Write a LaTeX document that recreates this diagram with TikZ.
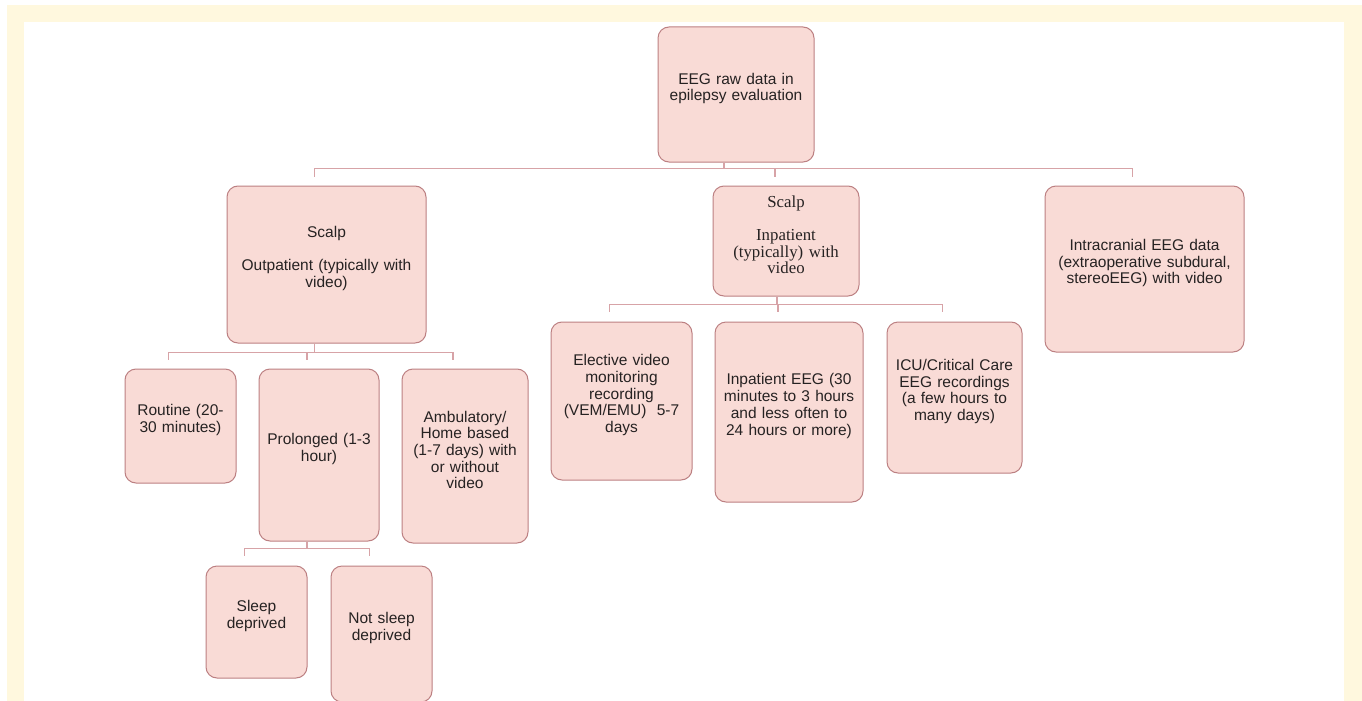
\documentclass[tikz,border=0pt]{standalone}
\usepackage{fontspec}
\setmainfont{Liberation Sans}
\newfontfamily\boxserif{Liberation Serif}
\usepackage{tikz}
\definecolor{cream}{RGB}{255,248,222}
\definecolor{boxfill}{RGB}{249,219,214}
\definecolor{boxline}{RGB}{188,128,130}
\definecolor{linkline}{RGB}{215,163,167}
\definecolor{boxtext}{RGB}{38,34,34}
\tikzset{
    box/.style={draw=boxline, fill=boxfill, line width=1pt, rounded corners=11pt,
        align=center, text=boxtext, inner sep=0pt,
        font=\fontsize{15.5}{16.7}\selectfont,
        execute at end node={\par\kern12pt}},
    boxsize/.style 2 args={minimum width=#1, minimum height=#2, text width=#1-14pt},
    link/.style={draw=linkline, line width=1.1pt},
}

\begin{document}
\begin{tikzpicture}[x=1pt, y=-1pt]
    % Page and frame
    \useasboundingbox (0,0) rectangle (1362,701);
    \fill[cream] (7,5) rectangle (1362,701);
    \fill[white] (24,22) rectangle (1344,701);

    % Top of the tree
    \node[box, boxsize={156pt}{135pt}] (root) at (736,94.5) {EEG raw data in\\epilepsy evaluation};

    % First level
    \node[box, boxsize={199pt}{157pt}] (scalpout) at (326.5,264.5) {Scalp\\[16.7pt]Outpatient (typically with\\video)};
    \node[box, boxsize={146pt}{110pt}, font=\boxserif\fontsize{16.8}{16.5}\selectfont] (scalpin) at (786,241) {Scalp\\[16.5pt]Inpatient\\(typically) with\\video};
    \node[box, boxsize={199pt}{166pt}] (intra) at (1144.5,269) {Intracranial EEG data\\(extraoperative subdural,\\stereoEEG) with video};

    % Outpatient recordings
    \node[box, boxsize={111pt}{114pt}] (routine) at (180.5,426) {Routine (20-\\30 minutes)};
    \node[box, boxsize={120pt}{172pt}] (prolonged) at (319,455) {Prolonged (1-3\\hour)};
    \node[box, boxsize={126pt}{174pt}] (ambul) at (465,456) {Ambulatory/\\Home based\\(1-7 days) with\\or without\\video};

    % Prolonged recordings
    \node[box, boxsize={101pt}{112pt}] (sleep) at (256.5,622) {Sleep\\deprived};
    \node[box, boxsize={101pt}{136pt}] (notsleep) at (381.5,634) {Not sleep\\deprived};

    % Inpatient recordings
    \node[box, boxsize={141pt}{158pt}] (elective) at (621.5,401) {Elective video\\monitoring\\recording\\(VEM/EMU)~ 5-7\\days};
    \node[box, boxsize={148pt}{180pt}] (inpeeg) at (789,412) {Inpatient EEG (30\\minutes to 3 hours\\and less often to\\24 hours or more)};
    \node[box, boxsize={135pt}{151pt}] (icu) at (954.5,397.5) {ICU/Critical Care\\EEG recordings\\(a few hours to\\many days)};

    % Connectors from the top
    \draw[link] ([xshift=-12pt]root.south) -- ++(0,6) coordinate (rootbus);
    \draw[link] ([xshift=-12pt,yshift=9pt]scalpout.north) |- (rootbus) -| ([xshift=-12pt,yshift=9pt]intra.north);
    \draw[link] ([xshift=-11pt,yshift=9pt]scalpin.north) |- (rootbus);

    % Connectors below outpatient
    \draw[link] ([xshift=-12pt]scalpout.south) -- ++(0,9) coordinate (outbus);
    \draw[link] ([xshift=-12pt,yshift=9pt]routine.north) |- (outbus) -| ([xshift=-12pt,yshift=9pt]ambul.north);
    \draw[link] ([xshift=-12pt,yshift=9pt]prolonged.north) |- (outbus);

    % Connectors below prolonged
    \draw[link] ([xshift=-12pt]prolonged.south) -- ++(0,7) coordinate (probus);
    \draw[link] ([xshift=-12pt,yshift=10pt]sleep.north) |- (probus) -| ([xshift=-12pt,yshift=10pt]notsleep.north);

    % Connectors below inpatient
    \draw[link] ([xshift=-9pt]scalpin.south) -- ++(0,8) coordinate (inbus);
    \draw[link] ([xshift=-12pt,yshift=10pt]elective.north) |- (inbus) -| ([xshift=-12pt,yshift=10pt]icu.north);
    \draw[link] ([xshift=-11pt,yshift=10pt]inpeeg.north) |- (inbus);
\end{tikzpicture}
\end{document}
